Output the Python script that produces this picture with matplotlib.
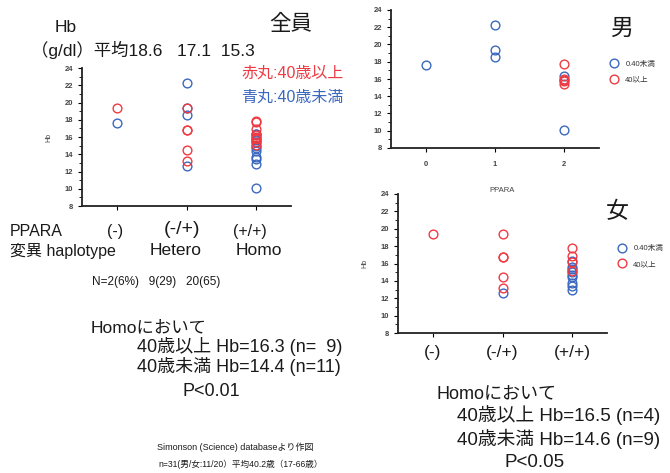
import numpy as np
import matplotlib.pyplot as plt
from matplotlib.ticker import MultipleLocator

plt.rcParams['font.family'] = ['Liberation Sans', 'Noto Sans CJK JP', 'DejaVu Sans']

W, H = 670, 473
red = '#ee3a43'
blue = '#3b68bf'

groups = [0, 1, 2]
group_labels = ['(-)', '(-/+)', '(+/+)']

# Hb values per PPARA group; blue = under 40, red = 40 and over
male_young = [[17.6], [22.3, 19.4, 18.6], [16.4, 10.1]]
male_old = [[], [], [17.7, 16.0, 15.9, 15.8, 15.4]]
female_young = [[], [12.6], [16.3, 15.6, 15.4, 15.0, 14.7, 14.4, 13.7, 13.4, 12.9]]
female_old = [[19.4], [19.4, 16.8, 16.8, 14.5, 13.2], [17.8, 16.9, 16.2, 15.1]]

all_young = [m + f for m, f in zip(male_young, female_young)]
all_old = [m + f for m, f in zip(male_old, female_old)]


def rect(left, right, top, bottom):
    return [left / W, 1 - bottom / H, (right - left) / W, (bottom - top) / H]


def txt(x, y, s, **kw):
    kw.setdefault('va', 'center')
    kw.setdefault('color', '#1a1a1a')
    fig.text(x / W, 1 - y / H, s, **kw)


def scatter(ax, young, old, legend=False):
    for series, c, lab in [(young, blue, '0.40未満'), (old, red, '40以上')]:
        xs = np.concatenate([[g] * len(v) for g, v in zip(groups, series)])
        ys = np.concatenate([v for v in series])
        ax.plot(xs, ys, 'o', mfc='none', mec=c, mew=1.0, ms=6.3, label=lab, ls='none')
    ax.set_xlim(-0.5, 2.5)
    ax.set_ylim(8, 24)
    ax.set_xticks(groups)
    ax.yaxis.set_major_locator(MultipleLocator(2))
    ax.yaxis.set_minor_locator(MultipleLocator(1))
    ax.tick_params(axis='both', labelsize=5.5, labelcolor='#444444', length=3, width=0.8)
    ax.tick_params(axis='y', which='minor', length=2, width=0.6)
    for lbl in ax.get_yticklabels():
        lbl.set_fontweight('bold')
    for s in ['top', 'right']:
        ax.spines[s].set_visible(False)
    for s in ['left', 'bottom']:
        ax.spines[s].set_linewidth(1.3)
        ax.spines[s].set_color('#222222')
    if legend:
        leg = ax.legend(loc='center left', bbox_to_anchor=(1.02, 0.55), frameon=False,
                        fontsize=5.5, handletextpad=0.5, labelspacing=1.1, borderaxespad=0)
        for t in leg.get_texts():
            t.set_color('#333333')


fig = plt.figure(figsize=(W / 100, H / 100), dpi=100)

# 全員
ax1 = fig.add_axes(rect(82, 291, 68, 206))
scatter(ax1, all_young, all_old)
ax1.set_xticklabels([])
ax1.set_ylabel('Hb', fontsize=5, color='#444444', labelpad=9)

# 男
ax2 = fig.add_axes(rect(391, 599, 10, 148))
scatter(ax2, male_young, male_old, legend=True)
ax2.set_xticklabels(['0', '1', '2'], fontweight='bold')
ax2.tick_params(axis='x', pad=6)

# 女
ax3 = fig.add_axes(rect(398, 607, 194, 333))
scatter(ax3, female_young, female_old, legend=True)
ax3.set_xticklabels(group_labels, fontsize=12.5, color='#1a1a1a', fontweight='normal')
ax3.tick_params(axis='x', labelcolor='#1a1a1a', pad=6)
ax3.set_title('PPARA', fontsize=5.5, color='#444444', pad=-3)
ax3.set_ylabel('Hb', fontsize=5, color='#444444', labelpad=9)

# headings
txt(55, 27, 'Hb', fontsize=12.5)
txt(31, 50, '（g/dl）平均18.6   17.1  15.3', fontsize=12.5)
txt(269, 25, '全員', fontsize=15.5)
txt(610, 28, '男', fontsize=16.5)
txt(606, 212, '女', fontsize=16.5)
txt(241, 73, '赤丸:40歳以上', fontsize=11.5, color=red)
txt(241, 97, '青丸:40歳未満', fontsize=11.5, color=blue)

# genotype labels
txt(10, 231, 'PPARA', fontsize=11.5)
txt(107, 231, '(-)', fontsize=11.5)
txt(164, 229, '(-/+)', fontsize=14)
txt(233, 231, '(+/+)', fontsize=11.5)
txt(10, 251, '変異 haplotype', fontsize=11.5)
txt(150, 250, 'Hetero', fontsize=12.5)
txt(236, 250, 'Homo', fontsize=12.5)
txt(92, 282, 'N=2(6%)   9(29)   20(65)', fontsize=8.5)

# left notes
txt(91, 328, 'Homoにおいて', fontsize=12.5)
txt(137, 346, '40歳以上 Hb=16.3 (n=  9)', fontsize=13)
txt(137, 366, '40歳未満 Hb=14.4 (n=11)', fontsize=13)
txt(183, 392, 'P<0.01', fontsize=13)

# right notes
txt(437, 394, 'Homoにおいて', fontsize=13)
txt(457, 415, '40歳以上 Hb=16.5 (n=4)', fontsize=13.5)
txt(457, 439, '40歳未満 Hb=14.6 (n=9)', fontsize=13.5)
txt(505, 462, 'P<0.05', fontsize=13.5)

txt(157, 447, 'Simonson (Science) databaseより作図', fontsize=6.5)
txt(158, 464, 'n=31(男/女:11/20）平均40.2歳（17-66歳）', fontsize=6.2)

fig.savefig('out.png', dpi=100)
